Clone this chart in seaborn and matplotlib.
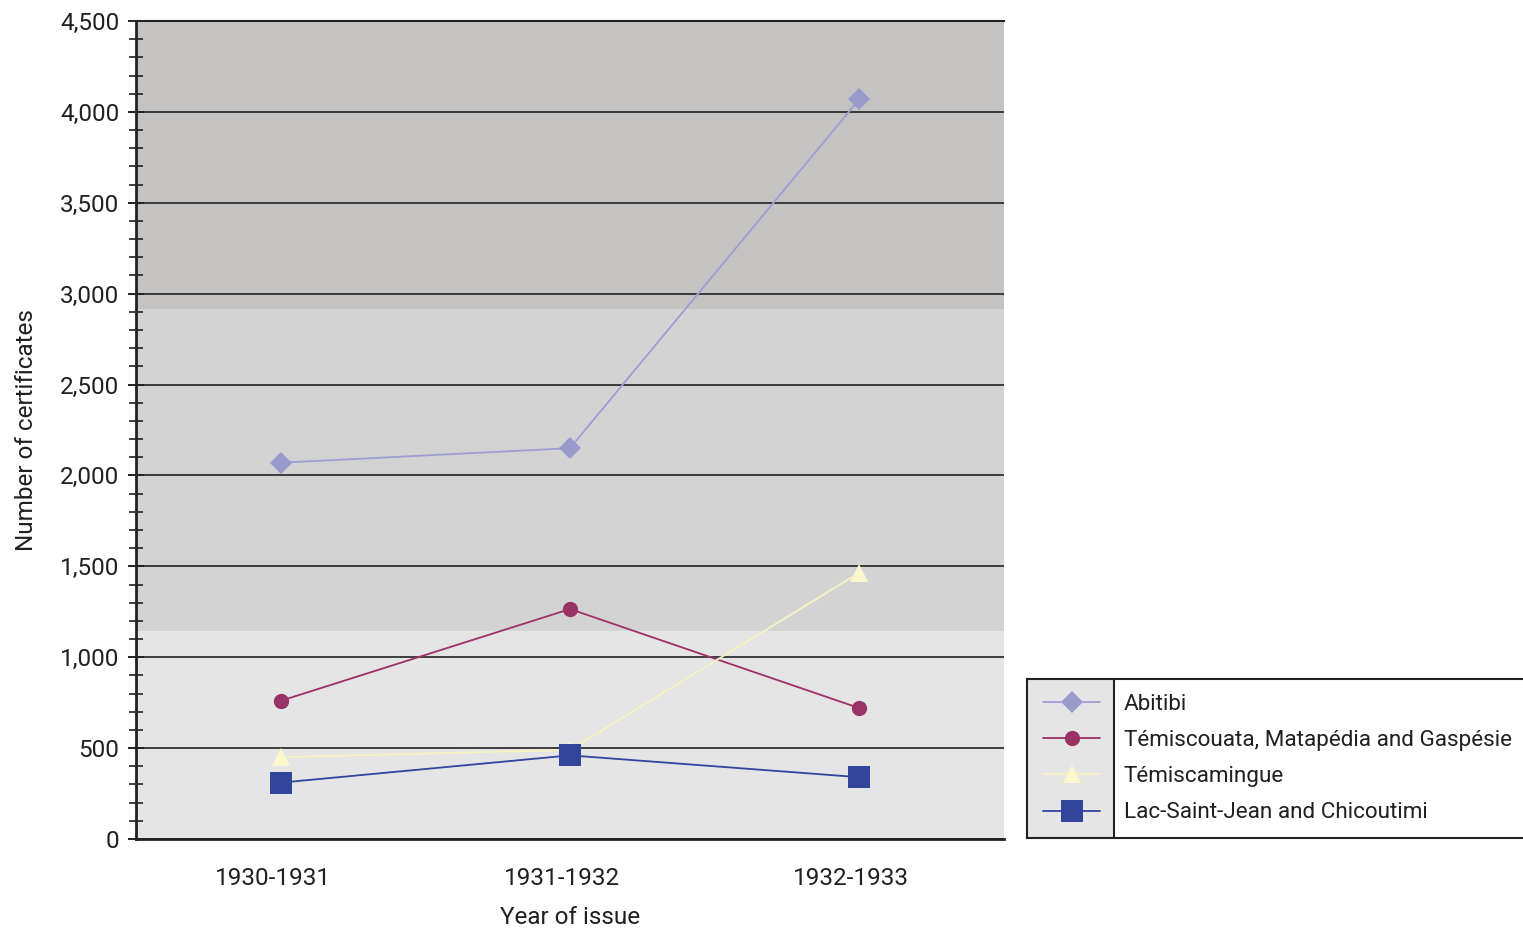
import matplotlib
matplotlib.use("Agg")
import matplotlib.pyplot as plt
import matplotlib.transforms as mtransforms
import seaborn as sns
import pandas as pd
from matplotlib.ticker import MultipleLocator, FuncFormatter
from matplotlib.lines import Line2D

years = ["1930-1931", "1931-1932", "1932-1933"]
regions = ["Abitibi", "Témiscouata, Matapédia and Gaspésie",
           "Témiscamingue", "Lac-Saint-Jean and Chicoutimi"]
abitibi = [2070, 2150, 4070]
temiscouata = [760, 1265, 720]
temiscamingue = [450, 490, 1465]
lac_saint_jean = [310, 460, 340]
series = [abitibi, temiscouata, temiscamingue, lac_saint_jean]

line_colors = ["#9e9ed2", "#993366", "#f6f2c4", "#33449b"]
marker_colors = ["#9999cc", "#993366", "#fbf7cc", "#33449b"]
markers = ["D", "o", "^", "s"]
msizes = [11, 11, 13, 16.5]

sns.set_theme(style="white")
plt.rcParams["font.family"] = ["Roboto", "DejaVu Sans"]

fig = plt.figure(figsize=(15.23, 9.31), dpi=100)
ax = fig.add_axes([136 / 1523, 1 - 839 / 931, (1004 - 136) / 1523, (839 - 21) / 931])

# shaded horizontal bands behind the plot
ax.axhspan(2915, 4500, color="#c4c3c1", zorder=0, lw=0)
ax.axhspan(1145, 2915, color="#d3d3d3", zorder=0, lw=0)
ax.axhspan(0, 1145, color="#e4e5e4", zorder=0, lw=0)

df = pd.DataFrame({
    "year": years * len(regions),
    "count": [v for s in series for v in s],
    "region": [r for r in regions for _ in years],
})

for i, reg in enumerate(regions):
    sub = df[df["region"] == reg]
    sns.lineplot(data=sub, x="year", y="count", ax=ax, color=line_colors[i],
                 lw=1.3, marker=markers[i], markersize=msizes[i],
                 markerfacecolor=marker_colors[i], markeredgecolor=marker_colors[i],
                 markeredgewidth=0, zorder=3 + i, legend=False)

ax.set_xlim(-0.5, 2.5)
ax.set_ylim(0, 4500)
ax.yaxis.set_major_locator(MultipleLocator(500))
ax.yaxis.set_minor_locator(MultipleLocator(100))
ax.yaxis.set_major_formatter(FuncFormatter(lambda v, p: f"{int(v):,}"))
ax.grid(axis="y", which="major", color="#222222", lw=1.2, zorder=1)
ax.grid(axis="x", visible=False)

ax.tick_params(axis="y", which="major", direction="inout", length=12, width=1.4,
               color="#222222", labelsize=17.5, labelcolor="#231f20", left=True, pad=6)
ax.tick_params(axis="y", which="minor", direction="inout", length=10, width=1.2,
               color="#222222", left=True)
ax.tick_params(axis="x", which="both", length=0, labelsize=17.5, labelcolor="#231f20", pad=20)
ax.set_xticks(range(len(years)))
ax.set_xticklabels(years)
shift = mtransforms.ScaledTranslation(-8 / 100, 0, fig.dpi_scale_trans)
for lbl in ax.get_xticklabels():
    lbl.set_transform(lbl.get_transform() + shift)

for side in ["left", "bottom"]:
    ax.spines[side].set_color("#222222")
    ax.spines[side].set_linewidth(2)
ax.spines["top"].set_color("#222222")
ax.spines["top"].set_linewidth(1.5)
ax.spines["right"].set_visible(False)

ax.set_xlabel("Year of issue", fontsize=17.5, color="#231f20", labelpad=12)
ax.set_ylabel("Number of certificates", fontsize=17.5, color="#231f20", labelpad=16)

# legend panel: shaded handle column, white text column
lax = fig.add_axes([1027 / 1523, 1 - 838 / 931, (1523 - 1027) / 1523, (838 - 679) / 931])
lax.set_xlim(0, 496)
lax.set_ylim(0, 1)
lax.axvspan(0, 87, color="#e4e5e4", lw=0)
lax.axvline(87, color="#222222", lw=1.5)
lax.set_xticks([])
lax.set_yticks([])
for side in ["left", "top", "bottom"]:
    lax.spines[side].set_color("#222222")
    lax.spines[side].set_linewidth(1.5)
lax.spines["right"].set_visible(False)

leg_fs = 16.2
em = leg_fs * 100 / 72
handles = [Line2D([], [], color=line_colors[i], lw=1.3, marker=markers[i],
                  markersize=msizes[i], markerfacecolor=marker_colors[i],
                  markeredgewidth=0) for i in range(len(regions))]
lax.legend(handles, regions, loc="center left", bbox_to_anchor=(16 / 496, 0.5),
           frameon=False, fontsize=leg_fs, handlelength=57 / em, handletextpad=24 / em,
           borderpad=0, borderaxespad=0, labelspacing=0.68, labelcolor="#231f20")

fig.savefig("out.png", dpi=100)
